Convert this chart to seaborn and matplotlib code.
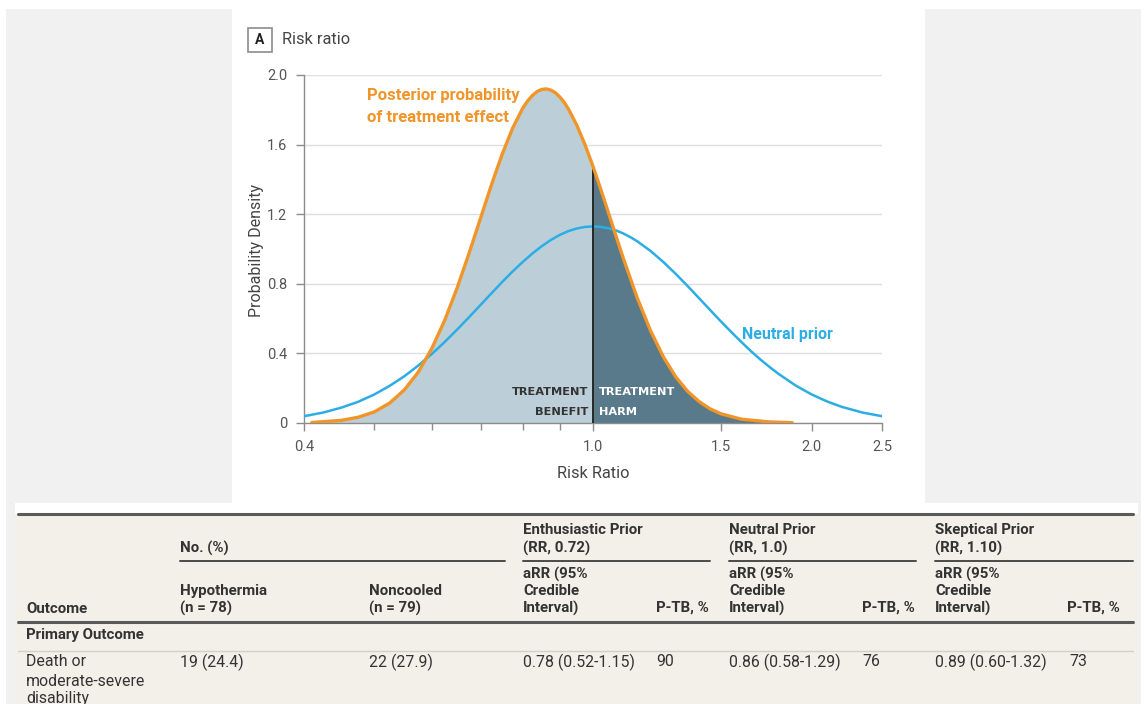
import matplotlib
matplotlib.use("Agg")
import matplotlib.pyplot as plt
from matplotlib.patches import Rectangle
from matplotlib.lines import Line2D
from matplotlib.ticker import NullFormatter, FixedLocator
import seaborn as sns

# ---------------------------------------------------------------- data
# Posterior probability density of the risk ratio
post_rr = [0.41, 0.45, 0.475, 0.50, 0.525, 0.55, 0.575, 0.60, 0.625, 0.65,
           0.675, 0.70, 0.725, 0.75, 0.775, 0.80, 0.8125, 0.825, 0.8375, 0.85,
           0.8625, 0.875, 0.8875, 0.90, 0.9125, 0.925, 0.95, 0.975, 1.00, 1.025,
           1.05, 1.075, 1.10, 1.15, 1.20, 1.25, 1.30, 1.35, 1.40, 1.45,
           1.50, 1.60, 1.75, 1.88]
post_density = [0.003, 0.015, 0.033, 0.064, 0.115, 0.191, 0.294, 0.429, 0.591, 0.776,
                0.975, 1.176, 1.371, 1.546, 1.694, 1.808, 1.850, 1.882, 1.905, 1.917,
                1.920, 1.913, 1.898, 1.874, 1.843, 1.805, 1.711, 1.599, 1.475, 1.343,
                1.209, 1.078, 0.951, 0.721, 0.531, 0.380, 0.265, 0.182, 0.123, 0.081,
                0.053, 0.022, 0.006, 0.002]

# Neutral prior density
prior_rr = [0.40, 0.425, 0.45, 0.475, 0.50, 0.525, 0.55, 0.575, 0.60, 0.625,
            0.65, 0.675, 0.70, 0.725, 0.75, 0.775, 0.80, 0.825, 0.85, 0.875,
            0.90, 0.925, 0.95, 0.975, 1.00, 1.025, 1.05, 1.075, 1.10, 1.125,
            1.15, 1.20, 1.25, 1.30, 1.35, 1.40, 1.45, 1.50, 1.55, 1.60,
            1.65, 1.70, 1.75, 1.80, 1.90, 2.00, 2.10, 2.20, 2.35, 2.50]
prior_density = [0.039, 0.060, 0.088, 0.122, 0.164, 0.214, 0.269, 0.331, 0.397, 0.466,
                 0.537, 0.608, 0.678, 0.746, 0.811, 0.871, 0.925, 0.974, 1.016, 1.052,
                 1.081, 1.103, 1.118, 1.127, 1.130, 1.127, 1.119, 1.107, 1.090, 1.069,
                 1.045, 0.989, 0.925, 0.857, 0.787, 0.717, 0.649, 0.584, 0.523, 0.466,
                 0.413, 0.365, 0.322, 0.283, 0.216, 0.164, 0.124, 0.093, 0.060, 0.039]

null_rr = 1.0
x_major = [0.4, 1.0, 1.5, 2.0, 2.5]
x_major_labels = ["0.4", "1.0", "1.5", "2.0", "2.5"]
x_minor = [0.5, 0.6, 0.7, 0.8, 0.9]
y_ticks = [0, 0.4, 0.8, 1.2, 1.6, 2.0]
y_ticklabels = ["0", "0.4", "0.8", "1.2", "1.6", "2.0"]

# Table content
group_titles = ["No. (%)", "Enthusiastic Prior", "Neutral Prior", "Skeptical Prior"]
group_subtitles = ["", "(RR, 0.72)", "(RR, 1.0)", "(RR, 1.10)"]
arm_names = ["Hypothermia", "Noncooled"]
arm_sizes = ["(n = 78)", "(n = 79)"]
estimate_header = ["aRR (95%", "Credible", "Interval)"]
ptb_header = "P-TB, %"
section_title = "Primary Outcome"
outcome_lines = ["Death or", "moderate-severe", "disability"]
arm_counts = ["19 (24.4)", "22 (27.9)"]
arr_values = ["0.78 (0.52-1.15)", "0.86 (0.58-1.29)", "0.89 (0.60-1.32)"]
ptb_values = ["90", "76", "73"]

# ---------------------------------------------------------------- style
sns.set_theme(style="white")
plt.rcParams["font.family"] = ["Roboto", "DejaVu Sans"]

ORANGE = "#f0952a"
BLUE = "#2cade3"
LIGHT_FILL = "#bccfd9"
DARK_FILL = "#587a8a"
TXT = "#3a3a3a"
GRAY_BG = "#f1f1f1"
BEIGE = "#f2f0e9"

W, H = 1145, 704
fig = plt.figure(figsize=(W / 100, H / 100), dpi=100)
fig.patch.set_facecolor("white")


def fx(x):
    return x / W


def fy(y):
    return 1 - y / H


def rect(x0, y0, x1, y1, color, z=-5):
    fig.add_artist(Rectangle((fx(x0), fy(y1)), fx(x1) - fx(x0), fy(y0) - fy(y1),
                             transform=fig.transFigure, facecolor=color,
                             edgecolor="none", zorder=z))


def hline(x0, x1, y, color, lw):
    fig.add_artist(Line2D([fx(x0), fx(x1)], [fy(y), fy(y)], transform=fig.transFigure,
                          color=color, lw=lw, zorder=2))


def txt(x, y, s, **kw):
    kw.setdefault("color", TXT)
    kw.setdefault("va", "center")
    kw.setdefault("ha", "left")
    fig.text(fx(x), fy(y), s, **kw)


# page backgrounds
rect(6, 9, 232, 704, GRAY_BG)
rect(925, 9, 1141, 704, GRAY_BG)
rect(15, 503, 1138, 704, "white", z=-4)
rect(15, 514, 1138, 704, BEIGE, z=-3)

# ---------------------------------------------------------------- chart
ax = fig.add_axes([fx(304), fy(423), fx(882) - fx(304), fy(75) - fy(423)])
ax.set_facecolor("none")
ax.set_xscale("log")

left = [r <= null_rr for r in post_rr]
right = [r >= null_rr for r in post_rr]
ax.fill_between(post_rr, 0, post_density, where=left, color=LIGHT_FILL, lw=0, zorder=1)
ax.fill_between(post_rr, 0, post_density, where=right, color=DARK_FILL, lw=0, zorder=1)

sns.lineplot(x=prior_rr, y=prior_density, ax=ax, color=BLUE, lw=1.8,
             estimator=None, sort=False, zorder=3, solid_joinstyle="round")
null_height = post_density[post_rr.index(null_rr)]
ax.plot([null_rr, null_rr], [0, null_height], color="#1a1a1a", lw=1.3, zorder=4)
sns.lineplot(x=post_rr, y=post_density, ax=ax, color=ORANGE, lw=2.4,
             estimator=None, sort=False, zorder=5, solid_joinstyle="round",
             solid_capstyle="round")

ax.set_xlim(0.4, 2.5)
ax.set_ylim(0, 2.0)
ax.xaxis.set_major_locator(FixedLocator(x_major))
ax.set_xticklabels(x_major_labels)
ax.xaxis.set_minor_locator(FixedLocator(x_minor))
ax.xaxis.set_minor_formatter(NullFormatter())
ax.set_yticks(y_ticks)
ax.set_yticklabels(y_ticklabels)
ax.yaxis.grid(True, color="#dedede", lw=1)
ax.xaxis.grid(False)
ax.set_axisbelow(True)
for side in ["top", "right"]:
    ax.spines[side].set_visible(False)
for side in ["left", "bottom"]:
    ax.spines[side].set_color("#8c8c8c")
    ax.spines[side].set_linewidth(1.0)
ax.tick_params(axis="both", which="major", direction="out", length=6, width=1,
               color="#8c8c8c", labelsize=10.5, labelcolor="#555555", pad=6,
               left=True, bottom=True)
ax.tick_params(axis="x", which="minor", direction="out", length=5, width=1,
               color="#8c8c8c", bottom=True)
ax.set_xlabel("")
ax.set_ylabel("")

# in-plot labels
ax.text(0.489, 1.885, "Posterior probability", color=ORANGE, fontsize=12,
        fontweight="semibold", va="center", ha="left")
ax.text(0.489, 1.758, "of treatment effect", color=ORANGE, fontsize=12,
        fontweight="semibold", va="center", ha="left")
ax.text(1.603, 0.51, "Neutral prior", color=BLUE, fontsize=11.5,
        fontweight="semibold", va="center", ha="left")
for s, yv in [("TREATMENT", 0.178), ("BENEFIT", 0.063)]:
    ax.text(0.984, yv, s, color="#333333", fontsize=8.2, fontweight="bold",
            family=["DejaVu Sans"], va="center", ha="right", zorder=6)
for s, yv in [("TREATMENT", 0.178), ("HARM", 0.063)]:
    ax.text(1.019, yv, s, color="white", fontsize=8.2, fontweight="bold",
            family=["DejaVu Sans"], va="center", ha="left", zorder=6)

# panel title with boxed letter
fig.add_artist(Rectangle((fx(248), fy(52)), fx(272) - fx(248), fy(28) - fy(52),
                         transform=fig.transFigure, facecolor="white",
                         edgecolor="#8c8c8c", lw=1.2, zorder=3))
txt(260, 40.5, "A", ha="center", fontsize=10, fontweight="bold", color="#222222", zorder=4)
txt(282, 40, "Risk ratio", fontsize=11.8, color="#444444")

# axis titles
txt(257, 250, "Probability Density", rotation=90, ha="center", fontsize=11.5, color="#444444")
txt(593, 474, "Risk Ratio", ha="center", fontsize=11.8, color="#444444")

# ---------------------------------------------------------------- table
HDR = dict(fontsize=10.8, fontweight="semibold", color="#333333")
BODY = dict(fontsize=11.4, color="#333333")

hline(18, 1133, 513.5, "#5a5a5a", 2.2)
hline(18, 1133, 622, "#5a5a5a", 2.2)
hline(18, 1133, 651, "#d2d0c8", 1.0)

group_x = [180, 523, 729, 935]
group_line = [(180, 505), (523, 710), (729, 916), (935, 1133)]
for gx, title, sub, (l0, l1) in zip(group_x, group_titles, group_subtitles, group_line):
    if sub:
        txt(gx, 530, title, **HDR)
        txt(gx, 548, sub, **HDR)
    else:
        txt(gx, 548, title, **HDR)
    hline(l0, l1, 561, "#4a4a4a", 1.4)

for ax_x, name, size in zip([180, 369], arm_names, arm_sizes):
    txt(ax_x, 591, name, **HDR)
    txt(ax_x, 608, size, **HDR)

for ex, px in zip([523, 729, 935], [709, 915, 1120]):
    for line, yy in zip(estimate_header, [574, 591, 608]):
        txt(ex, yy, line, **HDR)
    txt(px, 608, ptb_header, ha="right", **HDR)

txt(26, 609, "Outcome", **HDR)
txt(26, 635, section_title, **HDR)

for line, yy in zip(outcome_lines, [662, 681, 699]):
    txt(26, yy, line, **BODY)
for ax_x, val in zip([180, 369], arm_counts):
    txt(ax_x, 662, val, **BODY)
for ex, px, arr, ptb in zip([523, 729, 935], [656, 862, 1069], arr_values, ptb_values):
    txt(ex, 662, arr, **BODY)
    txt(px, 662, ptb, **BODY)

fig.savefig("out.png", dpi=100)
